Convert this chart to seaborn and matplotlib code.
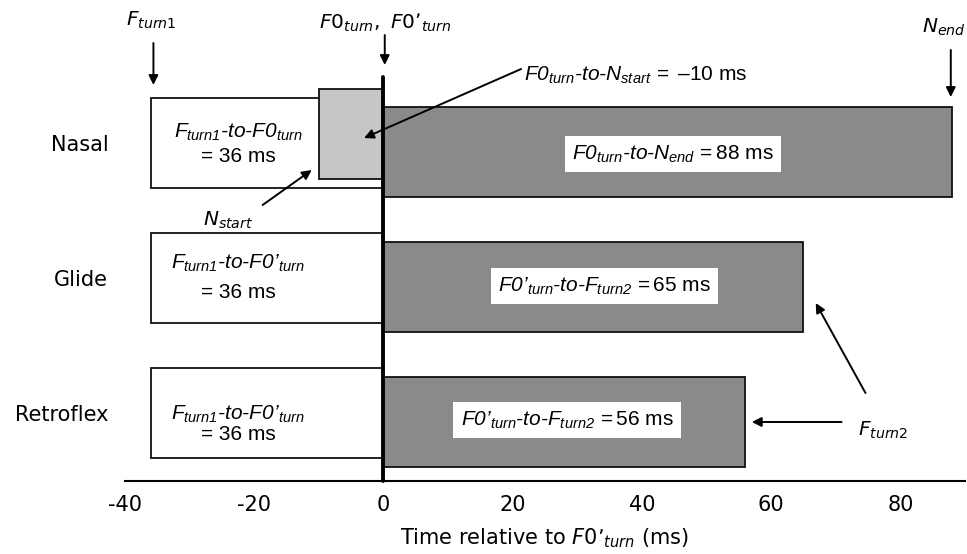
import matplotlib
matplotlib.use('Agg')
import numpy as np
import matplotlib.pyplot as plt
import seaborn as sns

# Durations (ms) relative to F0'turn
categories = ['Nasal', 'Glide', 'Retroflex']
turn1_to_f0 = [-36, -36, -36]          # F_turn1 -> F0_turn (white bars)
f0_to_nstart = [-10, np.nan, np.nan]   # F0_turn -> N_start (light grey, nasal only)
f0_to_end = [88, 65, 56]               # F0_turn -> N_end / F_turn2 (dark bars)
x_ticks = [-40, -20, 0, 20, 40, 60, 80]

white_line1 = [r'$F_{turn1}\text{-to-}F0_{turn}$',
               r'$F_{turn1}\text{-to-}F0’_{turn}$',
               r'$F_{turn1}\text{-to-}F0’_{turn}$']
white_line2 = '= 36 ms'
dark_labels = [r'$F0_{turn}\text{-to-}N_{end}\mathsf{\,=88\ ms}$',
               r'$F0’_{turn}\text{-to-}F_{turn2}\mathsf{\,=65\ ms}$',
               r'$F0’_{turn}\text{-to-}F_{turn2}\mathsf{\,=56\ ms}$']

sns.set_style('white')
plt.rcParams['font.family'] = ['DejaVu Sans']
plt.rcParams['mathtext.fontset'] = 'custom'
plt.rcParams['mathtext.rm'] = 'Liberation Sans:italic'
plt.rcParams['mathtext.it'] = 'Liberation Sans:italic'
plt.rcParams['mathtext.sf'] = 'Liberation Sans'
for key in ['text.color', 'axes.labelcolor', 'xtick.color', 'ytick.color', 'axes.edgecolor']:
    plt.rcParams[key] = 'black'

fig = plt.figure(figsize=(9.67, 5.54), dpi=100)
ax = fig.add_axes([125 / 967, 1 - 481 / 554, 840 / 967, 481 / 554])


def py(pix):
    # pixel row of the reference -> category coordinate
    return (pix - 143) / 135


bar_kw = dict(y=categories, order=categories, orient='h', edgecolor='#111111',
              linewidth=1.3, width=0.67, saturation=1, errorbar=None, ax=ax)

n0 = len(ax.patches)
sns.barplot(x=turn1_to_f0, color='white', **bar_kw)
n1 = len(ax.patches)
sns.barplot(x=f0_to_nstart, color='#c6c6c6', **bar_kw)
n2 = len(ax.patches)
sns.barplot(x=f0_to_end, color='#8a8a8a', **bar_kw)
n3 = len(ax.patches)

# stagger the layers vertically as in the original
for p in ax.patches[n1:n2]:
    p.set_y(p.get_y() - 0.067)
for p in ax.patches[n2:n3]:
    p.set_y(p.get_y() + 0.067)

ax.set_xlim(-40, 90)
ax.set_ylim(py(481), py(0))
ax.set_xticks(x_ticks)
ax.set_xticklabels([str(t) for t in x_ticks])
ax.set_yticks(range(len(categories)))
ax.set_yticklabels(categories)
ax.tick_params(axis='y', length=0, pad=12, labelsize=15)
ax.tick_params(axis='x', direction='in', length=6, width=1.5, pad=10, labelsize=15)
for s in ['top', 'right', 'left']:
    ax.spines[s].set_visible(False)
ax.spines['bottom'].set_linewidth(1.5)
ax.set_ylabel('')
xl = ax.set_xlabel(r'Time relative to $F0’_{turn}$ (ms)', fontsize=15, labelpad=8)
xl.set_math_fontfamily('dejavusans')

# thick line at F0'turn
ax.plot([0, 0], [py(77), py(481)], color='black', lw=2.8, zorder=5, clip_on=False)

# labels inside white bars
for i, (l1, c) in enumerate(zip(white_line1, [(132, 157), (263, 293), (414, 435)])):
    ax.text(-22.5, py(c[0]), l1, ha='center', va='center', fontsize=15)
    ax.text(-22.5, py(c[1]), white_line2, ha='center', va='center', fontsize=15,
            family='Liberation Sans')

# labels inside dark bars
for lab, (xc, yc) in zip(dark_labels, [(44.8, 154), (34.2, 286), (28.4, 420)]):
    ax.text(xc, py(yc), lab, ha='center', va='center', fontsize=15, zorder=6,
            bbox=dict(boxstyle='square,pad=0.35', fc='white', ec='none'))

arrow = dict(arrowstyle='-|>', color='black', lw=1.4, mutation_scale=14, shrinkA=0, shrinkB=0)
dv = dict(fontsize=14.5, ha='center', va='center', math_fontfamily='dejavusans')

ax.text(-36, py(20), r'$F_{turn1}$', **dv)
ax.annotate('', xy=(-35.6, py(85)), xytext=(-35.6, py(43)), arrowprops=arrow)
ax.text(0.3, py(23), r'$F0_{turn},\ F0’_{turn}$', **dv)
ax.annotate('', xy=(0.2, py(65)), xytext=(0.2, py(35)), arrowprops=arrow)
ax.text(86.7, py(27), r'$N_{end}$', **dv)
ax.annotate('', xy=(87.8, py(97)), xytext=(87.8, py(50)), arrowprops=arrow)

ax.text(21.8, py(75), r'$F0_{turn}\text{-to-}N_{start}\mathsf{\,=\ –10\ ms}$', fontsize=15,
        ha='left', va='center')
ax.annotate('', xy=(-3, py(138)), xytext=(21.3, py(69)), arrowprops=arrow)

ax.text(-24, py(220), r'$N_{start}$', **dv)
ax.annotate('', xy=(-11.1, py(170)), xytext=(-18.7, py(205)), arrowprops=arrow)

ax.text(77.3, py(430), r'$F_{turn2}$', **dv)
ax.annotate('', xy=(66.9, py(303)), xytext=(74.6, py(393)), arrowprops=arrow)
ax.annotate('', xy=(57.0, py(422)), xytext=(70.9, py(422)), arrowprops=arrow)

fig.savefig('out.png', dpi=100)
